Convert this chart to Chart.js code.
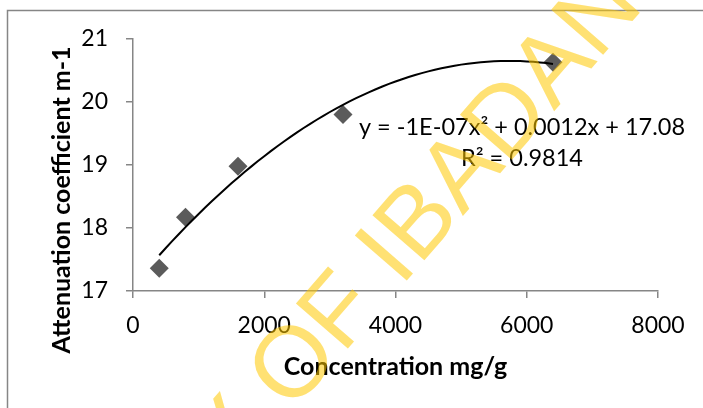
<!DOCTYPE html>
<html>
<head>
<meta charset="utf-8">
<script src="https://cdn.jsdelivr.net/npm/chart.js@4"></script>
<style>
  body { margin: 0; background: #fff; }
  canvas { display: block; }
</style>
</head>
<body>
<canvas id="chart" width="703" height="408"></canvas>
<script>
// values
var concentration = [400, 800, 1600, 3200, 6400];
var attenuation = [17.36, 18.17, 18.98, 19.80, 20.63];
var xTicks = [0, 2000, 4000, 6000, 8000];
var yTicks = [17, 18, 19, 20, 21];
var xTitle = 'Concentration mg/g';
var yTitle = 'Attenuation coefficient m-1';
var eqLines = ['y = -1E-07x\u00B2 + 0.0012x + 17.08', 'R\u00B2 = 0.9814'];
var watermarkText = ['UNIVERSITY OF ', 'IBADAN LIBRARY'];

// polynomial (order 2) trendline, least squares like Excel does
function quadFit(xs, ys) {
  var n = xs.length, s = [0, 0, 0, 0, 0], t = [0, 0, 0];
  for (var i = 0; i < n; i++) {
    var p = 1;
    for (var k = 0; k < 5; k++) { s[k] += p; if (k < 3) t[k] += p * ys[i]; p *= xs[i]; }
  }
  var m = [[s[0], s[1], s[2], t[0]], [s[1], s[2], s[3], t[1]], [s[2], s[3], s[4], t[2]]];
  for (var c = 0; c < 3; c++) {
    for (var r = c + 1; r < 3; r++) {
      var f = m[r][c] / m[c][c];
      for (var j = c; j < 4; j++) m[r][j] -= f * m[c][j];
    }
  }
  var a = [0, 0, 0];
  for (var r2 = 2; r2 >= 0; r2--) {
    var v = m[r2][3];
    for (var j2 = r2 + 1; j2 < 3; j2++) v -= m[r2][j2] * a[j2];
    a[r2] = v / m[r2][r2];
  }
  return a;
}
var coef = quadFit(concentration, attenuation);
var trend = [];
var x0 = concentration[0], x1 = concentration[concentration.length - 1];
for (var i = 0; i <= 60; i++) {
  var xv = x0 + (x1 - x0) * i / 60;
  trend.push({ x: xv, y: coef[0] + coef[1] * xv + coef[2] * xv * xv });
}

var points = concentration.map(function(c, i) {
  return { x: c, y: attenuation[i] };
});

var axisGrey = '#868686';
var fam = 'Lato, "Open Sans", sans-serif';

var extras = {
  id: 'extras',
  beforeDraw: function(chart) {
    var ctx = chart.ctx;
    ctx.save();
    ctx.fillStyle = '#fff';
    ctx.fillRect(0, 0, chart.width, chart.height);
    ctx.strokeStyle = axisGrey;
    ctx.lineWidth = 1.5;
    ctx.beginPath();
    ctx.moveTo(7.5, chart.height + 2);
    ctx.lineTo(7.5, 10.5);
    ctx.lineTo(chart.width + 2, 10.5);
    ctx.stroke();
    ctx.restore();
  },
  afterDraw: function(chart) {
    var ctx = chart.ctx;
    // y axis title, centred on the whole chart height like the original
    ctx.save();
    ctx.translate(62, 200);
    ctx.rotate(-Math.PI / 2);
    ctx.fillStyle = '#000';
    ctx.font = 'bold 25px ' + fam;
    ctx.textAlign = 'center';
    ctx.textBaseline = 'middle';
    ctx.fillText(yTitle, 0, 0);
    ctx.restore();

    // trendline label
    ctx.save();
    ctx.fillStyle = '#000';
    ctx.font = '23.5px ' + fam;
    ctx.textAlign = 'center';
    ctx.textBaseline = 'middle';
    ctx.fillText(eqLines[0], 522, 127);
    ctx.fillText(eqLines[1], 522, 158);
    ctx.restore();

    // document watermark
    ctx.save();
    ctx.translate(410, 277);
    ctx.rotate(-49 * Math.PI / 180);
    ctx.fillStyle = 'rgba(255, 200, 0, 0.55)';
    ctx.font = '100px "Liberation Sans", sans-serif';
    ctx.textBaseline = 'alphabetic';
    ctx.textAlign = 'right';
    ctx.fillText(watermarkText[0], -14, 0);
    ctx.textAlign = 'left';
    ctx.fillText(watermarkText[1], -14, 0);
    ctx.restore();
  }
};

var ctx = document.getElementById('chart').getContext('2d');
var chart = new Chart(ctx, {
  type: 'scatter',
  data: {
    datasets: [{
      data: trend,
      showLine: true,
      borderColor: '#000',
      borderWidth: 2,
      pointRadius: 0,
      tension: 0,
      order: 0
    }, {
      data: points,
      pointStyle: 'rectRot',
      pointRadius: 9.5,
      pointBackgroundColor: '#5b5b5b',
      pointBorderWidth: 0,
      order: 1
    }]
  },
  options: {
    responsive: false,
    animation: false,
    devicePixelRatio: 1,
    layout: { padding: { top: 39, right: 45, bottom: 0, left: 0 } },
    plugins: { legend: { display: false }, tooltip: { enabled: false } },
    scales: {
      x: {
        type: 'linear',
        min: 0, max: 8000,
        afterFit: function(s) { s.height = 117; },
        afterBuildTicks: function(s) { s.ticks = xTicks.map(function(v) { return { value: v }; }); },
        grid: { drawOnChartArea: false, drawTicks: true, tickLength: 7, color: axisGrey, lineWidth: 1.5 },
        border: { display: true, color: axisGrey, width: 1.5 },
        ticks: { color: '#000', font: { family: fam, size: 23 }, padding: 14, maxRotation: 0,
                 callback: function(v) { return String(v); } },
        title: { display: true, text: xTitle, color: '#000',
                 font: { family: fam, size: 25, weight: 'bold' }, padding: { top: 0, bottom: 26 } }
      },
      y: {
        type: 'linear',
        min: 17, max: 21,
        afterFit: function(s) { s.width = 133; },
        afterBuildTicks: function(s) { s.ticks = yTicks.map(function(v) { return { value: v }; }); },
        grid: { drawOnChartArea: false, drawTicks: true, tickLength: 7, color: axisGrey, lineWidth: 1.5 },
        border: { display: true, color: axisGrey, width: 1.5 },
        ticks: { color: '#000', font: { family: fam, size: 23 }, padding: 18,
                 callback: function(v) { return String(v); } },
        title: { display: false }
      }
    }
  },
  plugins: [extras]
});
</script>
</body>
</html>
